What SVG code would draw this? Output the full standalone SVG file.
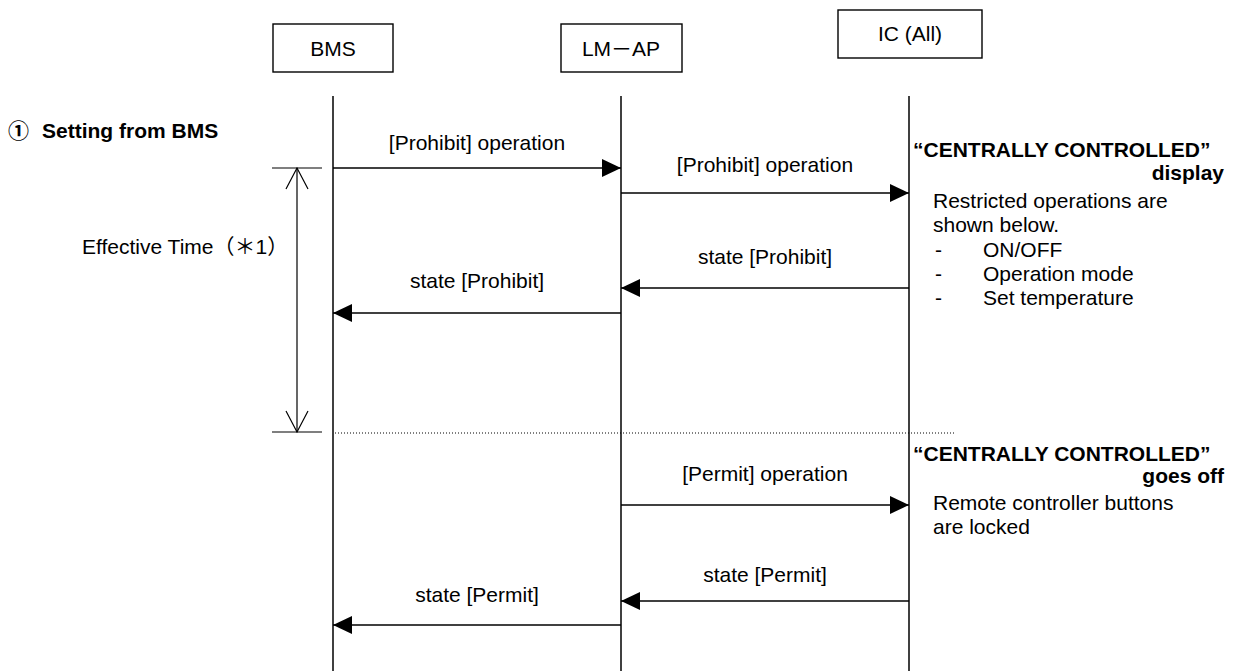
<svg xmlns="http://www.w3.org/2000/svg" width="1242" height="671" viewBox="0 0 1242 671">
<style>
text{font-family:"Liberation Sans",Arial,sans-serif;font-size:21px;fill:#000}
.b{font-weight:bold}
.box{fill:#fff;stroke:#000;stroke-width:1.4}
.life{stroke:#000;stroke-width:1.5;fill:none}
.msg{stroke:#000;stroke-width:1.4;fill:none;marker-end:url(#ah)}
.ln{stroke:#000;stroke-width:1.2;fill:none}
.m{text-anchor:middle}
</style>
<defs>
<marker id="ah" markerUnits="userSpaceOnUse" markerWidth="20" markerHeight="20" refX="19" refY="9" orient="auto" viewBox="0 0 20 20">
<path d="M0,0 L19,9 L0,18 z" fill="#000"/>
</marker>
</defs>
<rect width="1242" height="671" fill="#fff"/>
<g id="bms">
<rect class="box" x="273" y="24" width="120" height="48"/>
<text class="m" x="333" y="56">BMS</text>
</g>
<g id="lmap">
<rect class="box" x="561" y="24" width="121" height="48"/>
<text class="m" x="621" y="56">LM<tspan font-family="'Noto Sans CJK JP',sans-serif">－</tspan>AP</text>
</g>
<g id="ic">
<rect class="box" x="838" y="10" width="144" height="48"/>
<text class="m" x="910" y="41">IC (All)</text>
</g>
<g id="lifelines">
<line class="life" x1="333" y1="96" x2="333" y2="671"/>
<line class="life" x1="621" y1="96" x2="621" y2="671"/>
<line class="life" x1="909" y1="96" x2="909" y2="671"/>
</g>
<g id="title">
<text class="b" x="8" y="138"><tspan font-family="'Noto Sans CJK JP',sans-serif">①</tspan><tspan x="42">Setting from BMS</tspan></text>
</g>
<g id="effective-time">
<line class="ln" x1="272" y1="168" x2="322" y2="168"/>
<line class="ln" x1="272" y1="432" x2="322" y2="432"/>
<line class="ln" x1="297" y1="168" x2="297" y2="432"/>
<path class="ln" d="M286,189 L297,168 L308,189 M286,411 L297,432 L308,411"/>
<text x="82" y="254">Effective Time<tspan font-family="'Noto Sans CJK JP',sans-serif">（＊</tspan>1<tspan font-family="'Noto Sans CJK JP',sans-serif">）</tspan></text>
</g>
<g id="connectors">
<path class="msg" d="M333,168 H621"/>
<path class="msg" d="M621,193 H909"/>
<path class="msg" d="M909,288 H621"/>
<path class="msg" d="M621,313 H333"/>
<path class="msg" d="M621,505 H909"/>
<path class="msg" d="M909,601 H621"/>
<path class="msg" d="M621,625 H333"/>
<line x1="335" y1="433" x2="955" y2="433" stroke="#000" stroke-width="1" stroke-dasharray="1 2"/>
</g>
<g id="labels">
<text class="m" x="477" y="150">[Prohibit] operation</text>
<text class="m" x="765" y="172">[Prohibit] operation</text>
<text class="m" x="765" y="264">state [Prohibit]</text>
<text class="m" x="477" y="288">state [Prohibit]</text>
<text class="m" x="765" y="481">[Permit] operation</text>
<text class="m" x="765" y="582">state [Permit]</text>
<text class="m" x="477" y="602">state [Permit]</text>
</g>
<g id="note-display">
<text class="b" x="913" y="157">“CENTRALLY CONTROLLED”</text>
<text class="b" x="1224" y="180" text-anchor="end">display</text>
<text x="933" y="208">Restricted operations are</text>
<text x="933" y="232">shown below.</text>
<text x="935" y="257">-</text><text x="983" y="257">ON/OFF</text>
<text x="935" y="281">-</text><text x="983" y="281">Operation mode</text>
<text x="935" y="305">-</text><text x="983" y="305">Set temperature</text>
</g>
<g id="note-goes-off">
<text class="b" x="913" y="461">“CENTRALLY CONTROLLED”</text>
<text class="b" x="1224" y="483" text-anchor="end">goes off</text>
<text x="933" y="510">Remote controller buttons</text>
<text x="933" y="534">are locked</text>
</g>
</svg>
